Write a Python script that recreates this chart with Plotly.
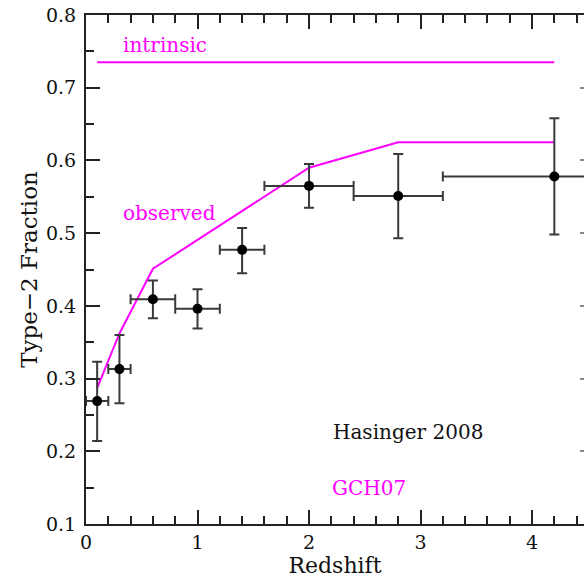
import plotly.graph_objects as go

# data
redshift = [0.1, 0.3, 0.6, 1.0, 1.4, 2.0, 2.8, 4.2]
frac = [0.269, 0.313, 0.409, 0.396, 0.477, 0.565, 0.551, 0.578]
err_up = [0.054, 0.047, 0.026, 0.027, 0.030, 0.030, 0.058, 0.080]
err_dn = [0.055, 0.047, 0.026, 0.027, 0.032, 0.030, 0.058, 0.080]
z_lo = [0.0, 0.2, 0.4, 0.8, 1.2, 1.6, 2.4, 3.2]
z_hi = [0.2, 0.4, 0.8, 1.2, 1.6, 2.4, 3.2, 5.2]

obs_z = [0.1, 0.3, 0.6, 2.0, 2.8, 4.2]
obs_frac = [0.287, 0.362, 0.451, 0.590, 0.625, 0.625]

intr_z = [0.1, 4.2]
intr_frac = [0.735, 0.735]

labels = [
    ("intrinsic", 0.31, 0.759, "#ff00ff"),
    ("observed", 0.31, 0.528, "#ff00ff"),
    ("Hasinger 2008", 2.20, 0.2265, "#111111"),
    ("GCH07", 2.19, 0.1495, "#ff00ff"),
]

x_ticks = [0, 1, 2, 3, 4]
y_ticks = [0.1, 0.2, 0.3, 0.4, 0.5, 0.6, 0.7, 0.8]

FONT = "DejaVu Serif"
MAG = "#ff00ff"
AX = "#222222"

fig = go.Figure()

fig.add_trace(go.Scatter(x=intr_z, y=intr_frac, mode="lines",
                         line=dict(color=MAG, width=2), showlegend=False))
fig.add_trace(go.Scatter(x=obs_z, y=obs_frac, mode="lines",
                         line=dict(color=MAG, width=2), showlegend=False))

fig.add_trace(go.Scatter(
    x=redshift, y=frac, mode="markers",
    marker=dict(color="black", size=10),
    error_y=dict(type="data", symmetric=False, array=err_up, arrayminus=err_dn,
                 color="#3a3a3a", thickness=2, width=5),
    error_x=dict(type="data", symmetric=False,
                 array=[h - z for z, h in zip(redshift, z_hi)],
                 arrayminus=[z - l for z, l in zip(redshift, z_lo)],
                 color="#3a3a3a", thickness=2, width=5),
    showlegend=False, cliponaxis=True))

# dummy trace for the right-hand axis stubs
fig.add_trace(go.Scatter(x=[None], y=[None], yaxis="y2", showlegend=False))

for text, x, y, col in labels:
    fig.add_annotation(x=x, y=y, text=text, showarrow=False,
                       xanchor="left", yanchor="middle",
                       font=dict(family=FONT, size=20, color=col))

fig.update_layout(
    width=584, height=580,
    margin=dict(l=86, r=0, t=15, b=56, autoexpand=False),
    paper_bgcolor="white", plot_bgcolor="white",
    font=dict(family=FONT, color="#111111"),
    xaxis=dict(
        range=[0, 4.466], tickvals=x_ticks, ticktext=[str(v) for v in x_ticks],
        ticks="inside", ticklen=14, tickwidth=2, tickcolor=AX,
        minor=dict(dtick=0.2, tick0=0, ticks="inside", ticklen=8, tickwidth=2, tickcolor=AX),
        showline=True, linecolor=AX, linewidth=2, mirror="ticks",
        showgrid=False, zeroline=False,
        tickfont=dict(family=FONT, size=19, color="#111111"),
        title=dict(text="Redshift", font=dict(family=FONT, size=22, color="#111111"), standoff=4),
    ),
    yaxis=dict(
        range=[0.1, 0.8], tickvals=y_ticks, ticktext=["%.1f" % v for v in y_ticks],
        ticks="inside", ticklen=14, tickwidth=2, tickcolor=AX,
        minor=dict(dtick=0.05, tick0=0.1, ticks="inside", ticklen=8, tickwidth=2, tickcolor=AX),
        showline=True, linecolor=AX, linewidth=2,
        showgrid=False, zeroline=False,
        tickfont=dict(family=FONT, size=19, color="#111111"),
        ticklabelstandoff=4,
        title=dict(text="Type\u22122 Fraction", font=dict(family=FONT, size=23, color="#111111"), standoff=2),
    ),
    yaxis2=dict(
        overlaying="y", side="right", range=[0.1, 0.8], tickvals=y_ticks,
        ticks="inside", ticklen=4, tickwidth=2, tickcolor="#888888",
        showticklabels=False, showline=False, showgrid=False, zeroline=False,
    ),
)

fig.write_html("out.html")
